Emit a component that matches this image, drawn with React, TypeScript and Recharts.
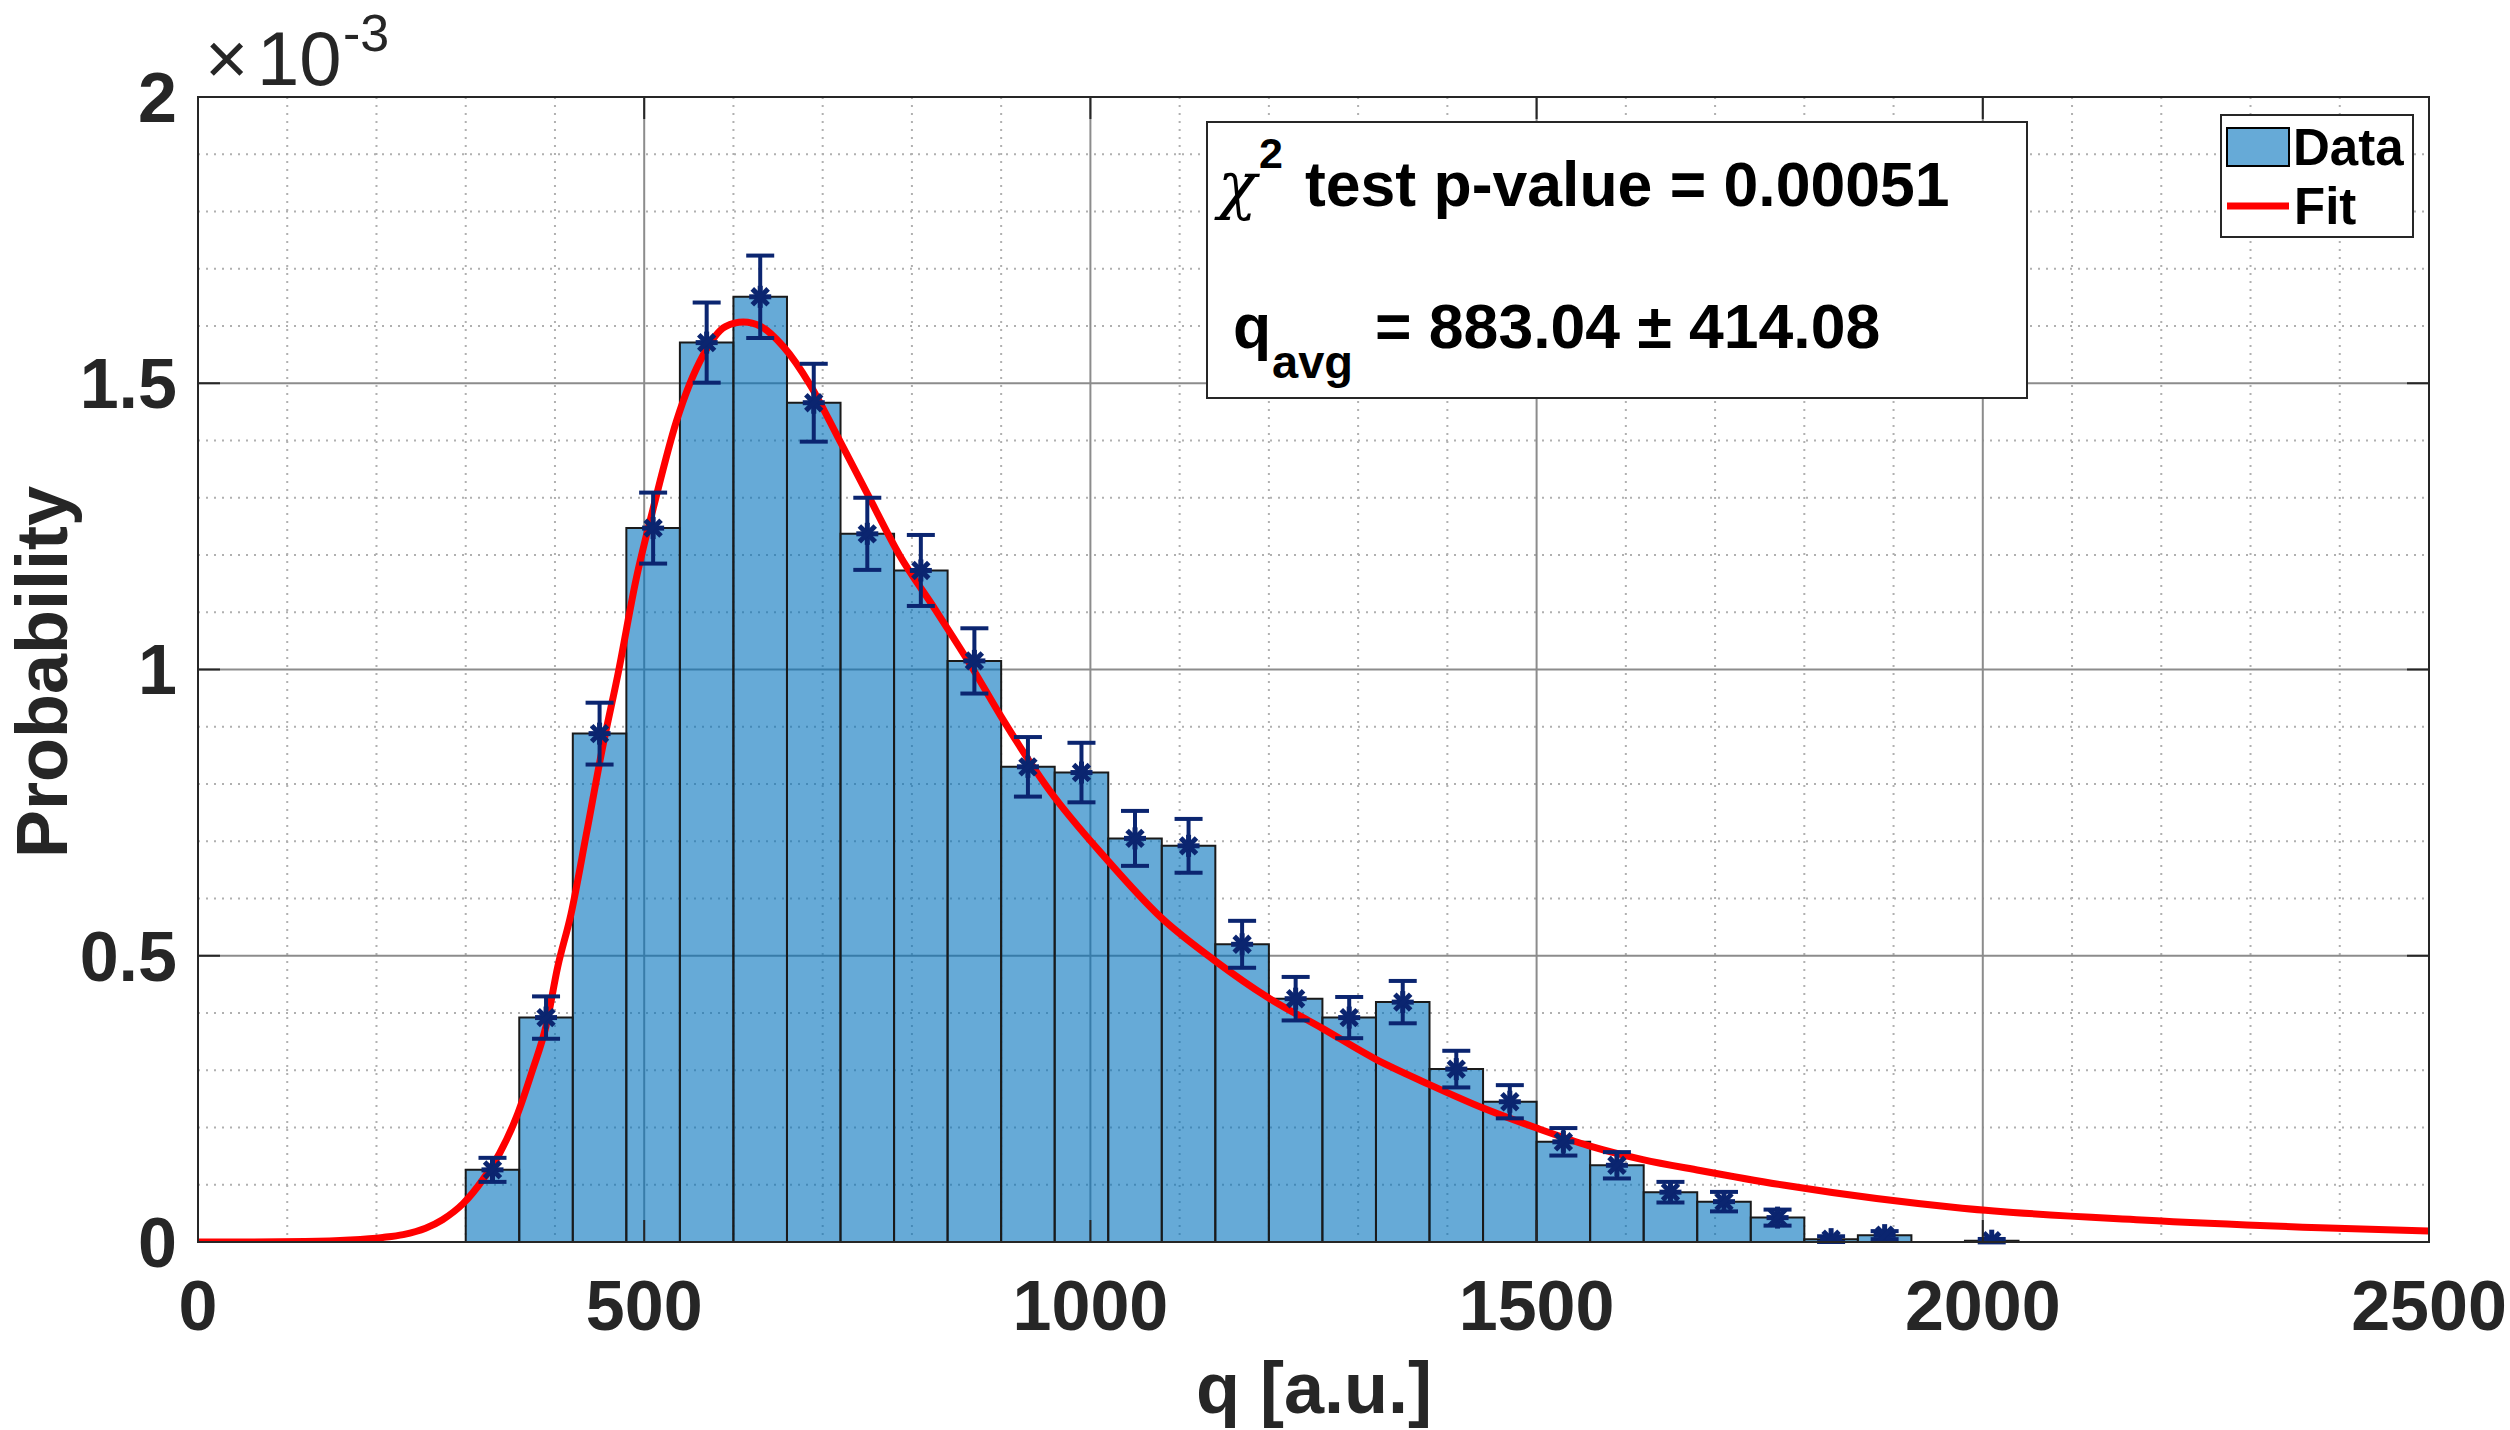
import React from "react";
import {
  ComposedChart, Line, Scatter, ErrorBar, XAxis, YAxis,
  CartesianGrid, ReferenceArea,
} from "recharts";

const W = 2510;
const H = 1430;
const PLOT = { left: 198, right: 2429, top: 97, bottom: 1242 };
const TICK_LEN = 22;

const AXIS = "#262626";
const NAVY = "#0b2570";
const BAR = "#0072BD";
const FONT = "'Liberation Sans', Arial, Helvetica, sans-serif";

// histogram (probability in units of 1e-3), bins are 60 wide
const BIN_WIDTH = 60;
const BIN_CENTERS = [
  330, 390, 450, 510, 570, 630, 690, 750, 810, 870, 930, 990, 1050, 1110,
  1170, 1230, 1290, 1350, 1410, 1470, 1530, 1590, 1650, 1710, 1770, 1830,
  1890, 2010,
];
const PROB_E3 = [
  0.126, 0.392, 0.888, 1.247, 1.571, 1.651, 1.466, 1.237, 1.173, 1.015,
  0.83, 0.82, 0.705, 0.692, 0.52, 0.425, 0.392, 0.419, 0.302, 0.245,
  0.175, 0.134, 0.087, 0.0705, 0.0426, 0.005, 0.012, 0.0023,
];
const PROB_ERR_E3 = [
  0.021, 0.037, 0.054, 0.062, 0.07, 0.072, 0.068, 0.063, 0.062, 0.057,
  0.052, 0.052, 0.048, 0.047, 0.041, 0.038, 0.036, 0.037, 0.032, 0.029,
  0.024, 0.023, 0.018, 0.017, 0.014, 0.005, 0.007, 0.003,
];

// fitted curve
const FIT_Q = [
  0, 60, 120, 170, 207, 230, 255, 274, 297, 319, 338, 357, 375, 390, 403,
  418, 435, 453, 471, 491, 511, 536, 566, 591, 611, 631, 656, 686, 716,
  751, 786, 826, 866, 901, 954, 1019, 1079, 1139, 1199, 1259, 1320, 1380,
  1440, 1500, 1559, 1619, 1683, 1778, 1977, 2178, 2378, 2500,
];
const FIT_E3 = [
  0, 0, 0.0008, 0.0035, 0.008, 0.013, 0.024, 0.039, 0.067, 0.1085, 0.155,
  0.219, 0.301, 0.377, 0.48, 0.573, 0.711, 0.861, 0.995, 1.158, 1.287,
  1.433, 1.549, 1.599, 1.607, 1.599, 1.564, 1.497, 1.409, 1.304, 1.2,
  1.105, 1.007, 0.915, 0.789, 0.667, 0.567, 0.492, 0.427, 0.374, 0.319,
  0.275, 0.234, 0.199, 0.168, 0.144, 0.125, 0.099, 0.059, 0.0385, 0.025,
  0.019,
];

const X_TICKS = [0, 500, 1000, 1500, 2000, 2500];
const Y_TICKS = [0, 0.5, 1, 1.5, 2];
const X_MINOR = [
  100, 200, 300, 400, 600, 700, 800, 900, 1100, 1200, 1300, 1400, 1600,
  1700, 1800, 1900, 2100, 2200, 2300, 2400,
];
const Y_MINOR = [0.1, 0.2, 0.3, 0.4, 0.6, 0.7, 0.8, 0.9, 1.1, 1.2, 1.3, 1.4, 1.6, 1.7, 1.8, 1.9];

const points = BIN_CENTERS.map((q, i) => ({ q, p: PROB_E3[i], err: PROB_ERR_E3[i] }));
const fitData = FIT_Q.map((q, i) => ({ q, v: FIT_E3[i] }));

const tickText = {
  fontFamily: FONT,
  fontWeight: 700,
  fontSize: 70,
  fill: AXIS,
};

const XTick = (props: any) => {
  const { x, y, payload } = props;
  return (
    <g>
      <line x1={x} x2={x} y1={PLOT.bottom} y2={PLOT.bottom - TICK_LEN} stroke={AXIS} strokeWidth={2} />
      <line x1={x} x2={x} y1={PLOT.top} y2={PLOT.top + TICK_LEN} stroke={AXIS} strokeWidth={2} />
      <text x={x} y={y} dy="0.71em" textAnchor="middle" {...tickText}>
        {payload.value}
      </text>
    </g>
  );
};

const YTick = (props: any) => {
  const { x, y, payload } = props;
  return (
    <g>
      <line x1={PLOT.left} x2={PLOT.left + TICK_LEN} y1={y} y2={y} stroke={AXIS} strokeWidth={2} />
      <line x1={PLOT.right} x2={PLOT.right - TICK_LEN} y1={y} y2={y} stroke={AXIS} strokeWidth={2} />
      <text x={x} y={y} dy="0.355em" textAnchor="end" {...tickText}>
        {payload.value}
      </text>
    </g>
  );
};

const Asterisk = (props: any) => {
  const { cx, cy } = props;
  if (cx == null || cy == null) return null;
  const r = 11;
  const d = r * 0.72;
  return (
    <g stroke={NAVY} strokeWidth={5} strokeLinecap="butt">
      <line x1={cx} x2={cx} y1={cy - r} y2={cy + r} />
      <line x1={cx - r} x2={cx + r} y1={cy} y2={cy} />
      <line x1={cx - d} x2={cx + d} y1={cy - d} y2={cy + d} />
      <line x1={cx - d} x2={cx + d} y1={cy + d} y2={cy - d} />
    </g>
  );
};

function Overlay() {
  return (
    <svg
      width={W}
      height={H}
      style={{ position: "absolute", left: 0, top: 0, pointerEvents: "none" }}
    >
      <rect
        x={PLOT.left}
        y={PLOT.top}
        width={PLOT.right - PLOT.left}
        height={PLOT.bottom - PLOT.top}
        fill="none"
        stroke={AXIS}
        strokeWidth={2}
      />

      {/* axis exponent */}
      <text x={205} y={84} fontFamily={FONT} fontSize={74} fill={AXIS}>×</text>
      <text x={257} y={85} fontFamily={FONT} fontSize={76} fill={AXIS}>10</text>
      <text x={343} y={51} fontFamily={FONT} fontSize={52} fill={AXIS}>-3</text>

      {/* axis titles */}
      <text
        transform="translate(67,672) rotate(-90)"
        textAnchor="middle"
        fontFamily={FONT}
        fontWeight={700}
        fontSize={72}
        fill={AXIS}
      >
        Probability
      </text>
      <text
        x={1314}
        y={1413}
        textAnchor="middle"
        fontFamily={FONT}
        fontWeight={700}
        fontSize={72}
        fill={AXIS}
      >
        q [a.u.]
      </text>

      {/* annotation box */}
      <rect x={1207} y={122} width={820} height={276} fill="#fff" stroke={AXIS} strokeWidth={2} />
      <text x={1218} y={207} fontFamily="'DejaVu Serif', serif" fontStyle="italic" fontSize={64} fill="#000">χ</text>
      <text x={1259} y={168} fontFamily={FONT} fontWeight={700} fontSize={43} fill="#000">2</text>
      <text x={1305} y={206} fontFamily={FONT} fontWeight={700} fontSize={62.5} fill="#000">
        test p-value = 0.00051
      </text>
      <text x={1233} y={348} fontFamily={FONT} fontWeight={700} fontSize={62.5} fill="#000">q</text>
      <text x={1272} y={378} fontFamily={FONT} fontWeight={700} fontSize={47} fill="#000">avg</text>
      <text x={1375} y={348} fontFamily={FONT} fontWeight={700} fontSize={62.5} fill="#000">
        = 883.04 ± 414.08
      </text>

      {/* legend */}
      <rect x={2221} y={115} width={192} height={122} fill="#fff" stroke={AXIS} strokeWidth={2} />
      <rect x={2227} y={128} width={62} height={38} fill={BAR} fillOpacity={0.6} stroke="#000" strokeWidth={2} />
      <text x={2293} y={165} fontFamily={FONT} fontWeight={700} fontSize={51} fill="#000">Data</text>
      <line x1={2227} x2={2289} y1={206} y2={206} stroke="#ff0000" strokeWidth={7} />
      <text x={2294} y={224} fontFamily={FONT} fontWeight={700} fontSize={51} fill="#000">Fit</text>
    </svg>
  );
}

export default function App() {
  return (
    <div
      style={{
        position: "absolute",
        left: 0,
        top: 0,
        width: W,
        height: H,
        background: "#fff",
      }}
    >
      <ComposedChart
        width={W}
        height={H}
        margin={{ top: PLOT.top, right: W - PLOT.right, bottom: 0, left: 0 }}
      >
        <CartesianGrid
          horizontalValues={Y_MINOR}
          verticalValues={X_MINOR}
          stroke="#b0b0b0"
          strokeWidth={2}
          strokeDasharray="2 6"
        />
        <CartesianGrid
          horizontalValues={Y_TICKS}
          verticalValues={X_TICKS}
          stroke="#8c8c8c"
          strokeWidth={2}
        />
        <XAxis
          type="number"
          dataKey="q"
          domain={[0, 2500]}
          ticks={X_TICKS}
          interval={0}
          allowDataOverflow
          height={H - PLOT.bottom}
          tick={XTick}
          tickSize={0}
          tickMargin={38}
          tickLine={false}
          axisLine={false}
        />
        <YAxis
          type="number"
          domain={[0, 2]}
          ticks={Y_TICKS}
          interval={0}
          allowDataOverflow
          width={PLOT.left}
          tick={YTick}
          tickSize={0}
          tickMargin={21}
          tickLine={false}
          axisLine={false}
        />
        {BIN_CENTERS.map((c, i) => (
          <ReferenceArea
            key={c}
            x1={c - BIN_WIDTH / 2}
            x2={c + BIN_WIDTH / 2}
            y1={0}
            y2={PROB_E3[i]}
            fill={BAR}
            fillOpacity={0.6}
            stroke="#1a1a1a"
            strokeWidth={2}
            ifOverflow="visible"
          />
        ))}
        <Line
          data={fitData}
          dataKey="v"
          type="monotone"
          dot={false}
          activeDot={false}
          stroke="#ff0000"
          strokeWidth={7}
          isAnimationActive={false}
        />
        <Scatter
          data={points}
          dataKey="p"
          shape={Asterisk}
          isAnimationActive={false}
        >
          <ErrorBar
            dataKey="err"
            direction="y"
            width={14}
            stroke={NAVY}
            strokeWidth={4}
            isAnimationActive={false}
          />
        </Scatter>
      </ComposedChart>
      <Overlay />
    </div>
  );
}
